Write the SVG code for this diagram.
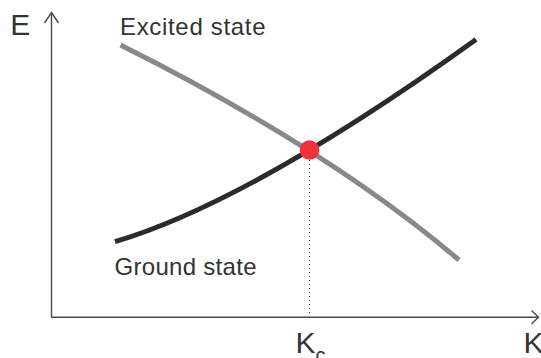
<svg xmlns="http://www.w3.org/2000/svg" width="541" height="358" viewBox="0 0 541 358">
  <style>
    .lbl { font-family: "Liberation Sans", Arial, sans-serif; fill: #333333; }
    .axis { stroke: #4a4a4a; stroke-width: 1.4; fill: none; }
    .curve { fill: none; stroke-width: 5; }
  </style>
  <rect width="541" height="358" fill="#ffffff"/>
  <g id="axes">
    <path class="axis" d="M51.5 317.3 V13"/>
    <path class="axis" d="M51 317.3 H538.5"/>
    <path class="axis" d="M44.5 23 L51.5 12.5 L58.5 23"/>
    <path class="axis" d="M531.5 310.5 L538.5 317.3 L531.5 324"/>
    <text class="lbl" x="10.3" y="35" font-size="30">E</text>
    <text class="lbl" x="523.5" y="353" font-size="30">K</text>
  </g>
  <g id="connectors">
    <path id="excited-curve" class="curve" stroke="#898989" d="M120.5 45 Q328.3 148.9 459 260"/>
    <path id="ground-curve" class="curve" stroke="#2d2a2b" d="M115 241.7 Q251.7 201 476 39.5"/>
    <path id="kc-guide" d="M309.5 160 V316" stroke="#444" stroke-width="1" stroke-dasharray="1 3" fill="none"/>
  </g>
  <g id="excited-label">
    <text class="lbl" x="120" y="35" font-size="24" textLength="145.5" lengthAdjust="spacing">Excited state</text>
  </g>
  <g id="ground-label">
    <text class="lbl" x="114.5" y="275" font-size="24" textLength="142" lengthAdjust="spacing">Ground state</text>
  </g>
  <g id="crossing">
    <circle cx="309.5" cy="150" r="9.8" fill="#ef3239"/>
  </g>
  <g id="kc-label">
    <text class="lbl" x="295.5" y="353" font-size="30">K<tspan font-size="20" dy="9">c</tspan></text>
  </g>
</svg>
